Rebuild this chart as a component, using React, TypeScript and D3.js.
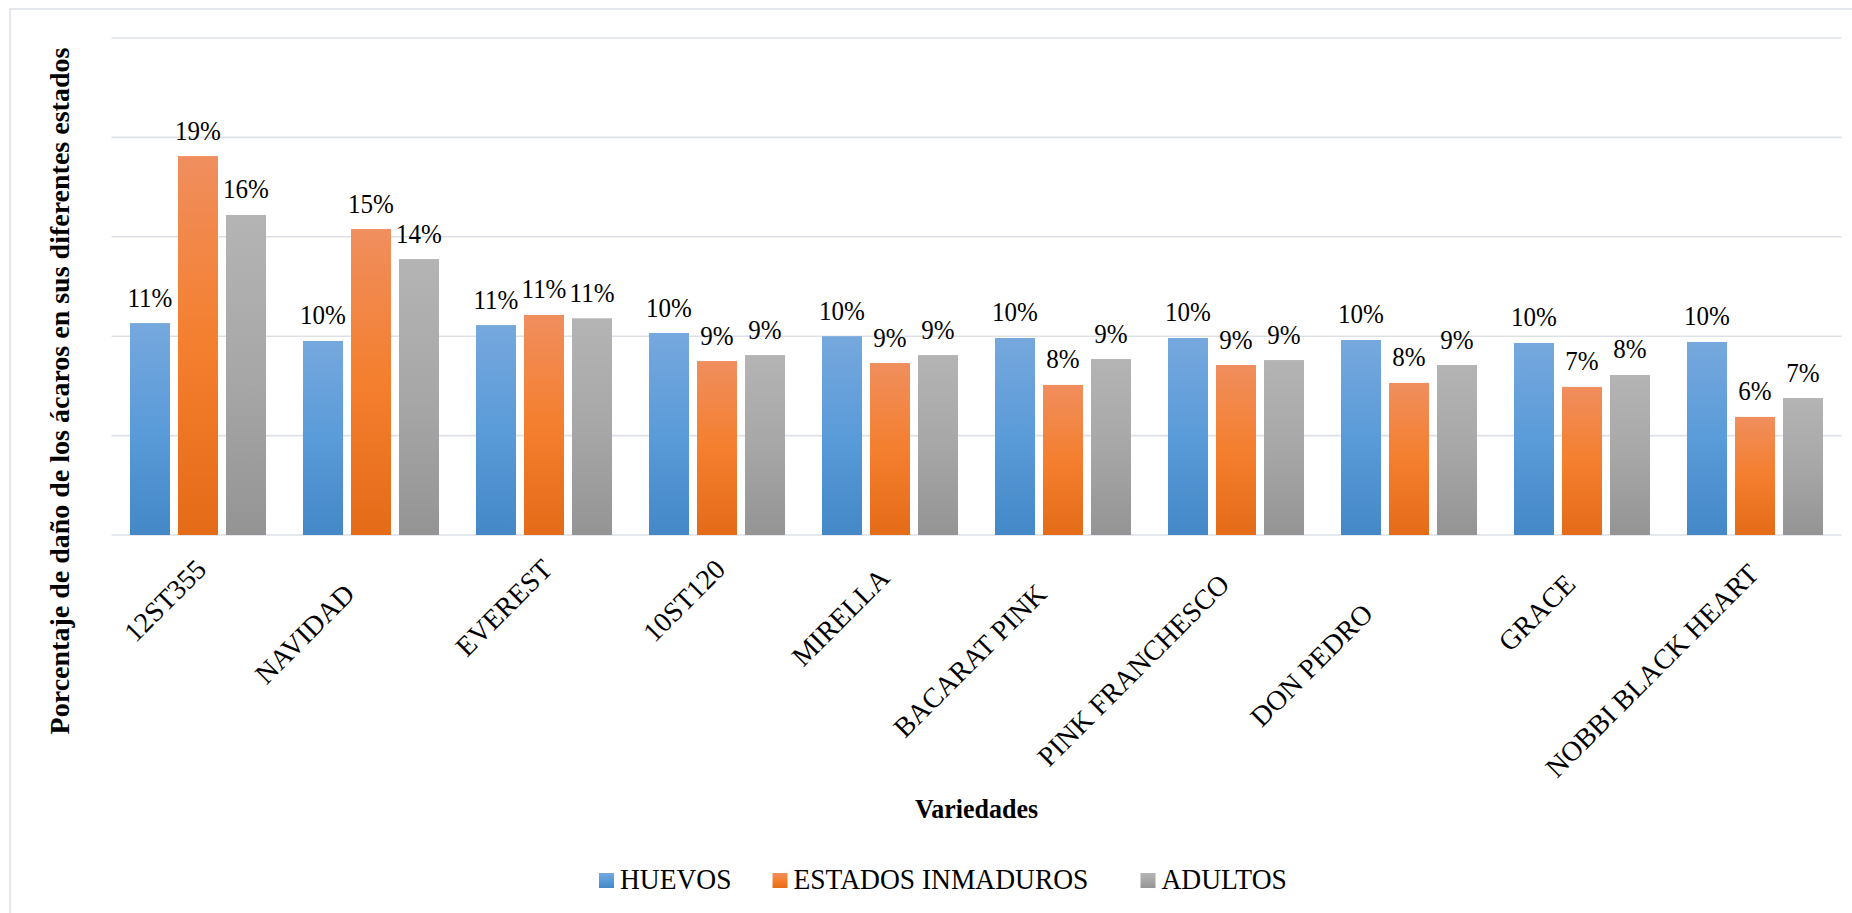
import React, { useMemo } from "react";
import * as d3 from "d3";

const categories = [
  "12ST355",
  "NAVIDAD     ",
  "EVEREST",
  "10ST120",
  "MIRELLA  ",
  "BACARAT PINK     ",
  "PINK FRANCHESCO   ",
  "DON PEDRO         ",
  "GRACE   ",
  "NOBBI BLACK HEART ",
];
const seriesNames = ["HUEVOS", "ESTADOS INMADUROS", "ADULTOS"];
const huevos = [10.66, 9.76, 10.56, 10.16, 10.0, 9.91, 9.91, 9.81, 9.66, 9.71];
const estadosInmaduros = [19.06, 15.39, 11.07, 8.75, 8.65, 7.55, 8.55, 7.65, 7.45, 5.94];
const adultos = [16.1, 13.88, 10.9, 9.05, 9.05, 8.85, 8.8, 8.55, 8.05, 6.89];
const yTicks = [0, 5, 10, 15, 20, 25];
const yTitle = "Porcentaje de daño de los ácaros en sus diferentes estados";
const xTitle = "Variedades";

const gradients = [
  ["#76A8DD", "#5A9BD9", "#4488C7"],
  ["#F08E5E", "#F47F2E", "#E46B18"],
  ["#B4B4B4", "#A7A7A7", "#949494"],
];

const FONT = "Liberation Serif";

function measure(text: string, font: string): number {
  const c = document.createElement("canvas").getContext("2d");
  if (!c) return text.length * 14;
  c.font = font;
  return c.measureText(text).width;
}

export default function App() {
  const left = 111.5, right = 1841.5, top = 38, bottom = 535;
  const values = [huevos, estadosInmaduros, adultos];

  const x0 = d3.scaleBand<string>().domain(categories).range([left, right]).paddingInner(0).paddingOuter(0);
  const x1 = d3
    .scaleBand<string>()
    .domain(seriesNames)
    .range([0, x0.bandwidth()])
    .paddingInner(1 / 6)
    .paddingOuter(0.385);
  const y = d3.scaleLinear().domain([0, 25]).range([bottom, top]);
  const fmt = d3.format(".0%");

  const legendFontSize = 27.5;
  const legendGaps = [41, 52, 0];
  const legendItems = useMemo(() => {
    let cx = 599;
    return seriesNames.map((s, i) => {
      const w = measure(s, `${legendFontSize}px ${FONT}`);
      const item = { s, i, x: cx };
      cx += 21 + w + legendGaps[i];
      return item;
    });
  }, []);

  return (
    <svg width={1852} height={913} style={{ display: "block", background: "#fff", position: "absolute", left: 0, top: 0 }}>
      <defs>
        {gradients.map((cols, i) => (
          <linearGradient key={i} id={`grad${i}`} x1={0} y1={0} x2={0} y2={1}>
            <stop offset="0%" stopColor={cols[0]} />
            <stop offset="50%" stopColor={cols[1]} />
            <stop offset="100%" stopColor={cols[2]} />
          </linearGradient>
        ))}
      </defs>
      <path d="M10,913 L10,9 L1852,9" fill="none" stroke="#DCE0E6" strokeWidth={1.5} />

      <g>
        {yTicks.map((t) => (
          <line key={t} x1={left} x2={right} y1={y(t)} y2={y(t)} stroke="#DDE1E7" strokeWidth={1.6} />
        ))}
      </g>

      {seriesNames.map((s, si) => (
        <g key={s}>
          {values[si].map((v, i) => {
            const bx = x0(categories[i])! + x1(s)!;
            return (
              <rect key={i} x={bx} y={y(v)} width={x1.bandwidth()} height={y(0) - y(v)} fill={`url(#grad${si})`} />
            );
          })}
          {values[si].map((v, i) => {
            const bx = x0(categories[i])! + x1(s)! + x1.bandwidth() / 2;
            return (
              <text
                key={`t${i}`}
                transform={`translate(${bx},${y(v) - 16.5}) scale(1,1.08)`}
                textAnchor="middle"
                style={{ fontFamily: FONT, fontSize: "25px" }}
                fill="#000"
              >
                {fmt(v / 100)}
              </text>
            );
          })}
        </g>
      ))}

      <g>
        {categories.map((c) => (
          <text
            key={c}
            transform={`translate(${x0(c)! + x0.bandwidth() / 2 + 10},571) rotate(-45)`}
            textAnchor="end"
            xmlSpace="preserve"
            style={{ fontFamily: FONT, fontSize: "28px", whiteSpace: "pre" }}
            fill="#000"
          >
            {c}
          </text>
        ))}
      </g>

      <text
        transform={`translate(69,391) rotate(-90)`}
        textAnchor="middle"
        style={{ fontFamily: FONT, fontSize: "28px", fontWeight: "bold" }}
        fill="#000"
      >
        {yTitle}
      </text>
      <text
        transform={`translate(${(left + right) / 2},818) scale(1,1.08)`}
        textAnchor="middle"
        style={{ fontFamily: FONT, fontSize: "26px", fontWeight: "bold" }}
        fill="#000"
      >
        {xTitle}
      </text>

      <g>
        {legendItems.map((it) => (
          <g key={it.s}>
            <rect x={it.x} y={873} width={15} height={15} fill={`url(#grad${it.i})`} />
            <text
              transform={`translate(${it.x + 21},889) scale(1,1.08)`}
              style={{ fontFamily: FONT, fontSize: `${legendFontSize}px` }}
              fill="#000"
            >
              {it.s}
            </text>
          </g>
        ))}
      </g>
    </svg>
  );
}
